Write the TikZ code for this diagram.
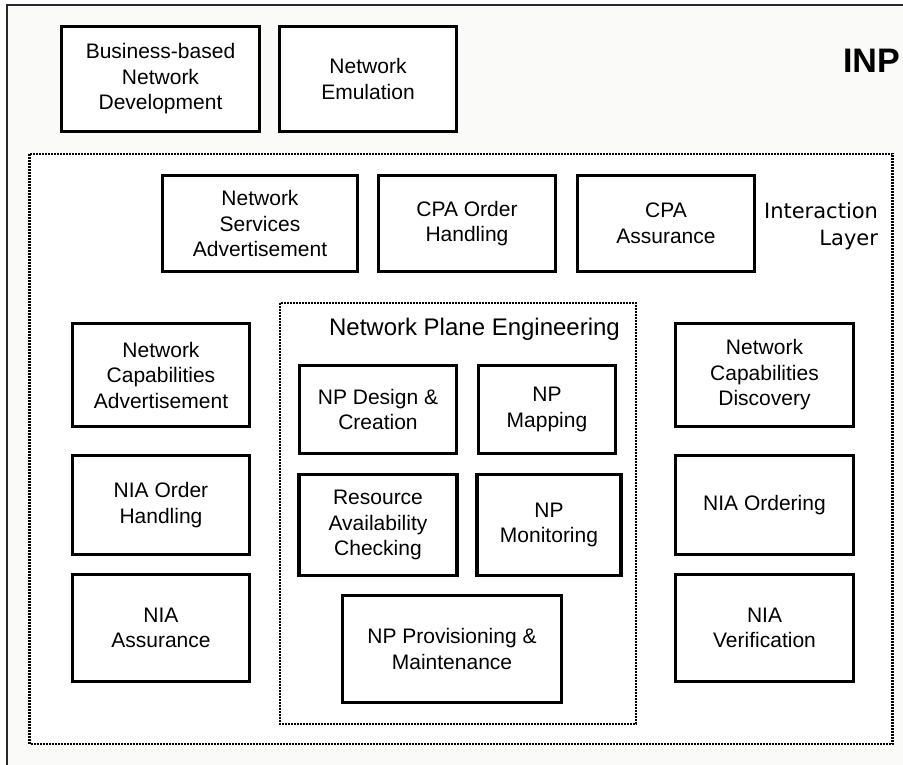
\documentclass[tikz,border=0pt]{standalone}
\usepackage{fontspec}
\setmainfont{Liberation Sans}
\newfontfamily\layerfont{DejaVu Sans}
\usepackage{tikz}
\usetikzlibrary{positioning}
\definecolor{bgcol}{RGB}{250,250,248}
\definecolor{framecol}{RGB}{40,40,40}
\tikzset{
	block/.style={draw, rectangle, line width=3.2pt, fill=white, align=center, inner sep=2pt, outer sep=0pt, font=\fontsize{21}{25.5}\selectfont},
	% dotted frames for layer and plane
	dotbox/.style={draw, line width=2.8pt, dash pattern=on 2pt off 1pt, fill=white},
	frame/.style={draw=framecol, line width=2pt},
	caption/.style={inner sep=0pt, outer sep=0pt},
}

\begin{document}
\begin{tikzpicture}[x=1pt, y=1pt]
	\useasboundingbox (0,0) rectangle (903,-765);
	\fill[white] (0,0) rectangle (903,-765);
	\fill[bgcol] (7,-5) rectangle (903,-765);
	\draw[frame] (7,-765) -- (7,-5) -- (903,-5);
	
	\draw[dotbox] (29.5,-154) rectangle (892.5,-744);
	\draw[dotbox] (280,-303) rectangle (636,-724);
	
	\node (inp) [caption, anchor=base west, font=\fontsize{34}{40}\selectfont\bfseries] at (843,-73) {INP};
	\node (layer) [caption, anchor=base east, align=right, font=\layerfont\fontsize{21}{27}\selectfont] at (878,-245) {Interaction\\Layer};
	\node (nptitle) [caption, anchor=base, font=\fontsize{24}{28}\selectfont] at (474.5,-335) {Network Plane Engineering};
	
	\node (biz) [block, minimum width=198pt, minimum height=105pt] at (160.5,-79) {Business-based\\Network\\Development};
	\node (emu) [block, minimum width=177pt, minimum height=105pt, right=20pt of biz] {Network\\Emulation};
	
	\node (nsa) [block, minimum width=195pt, minimum height=96pt] at (260,-223.5) {Network\\Services\\Advertisement};
	\node (cpaoh) [block, minimum width=177pt, minimum height=96pt, right=21pt of nsa] {CPA Order\\Handling};
	\node (cpaas) [block, minimum width=177pt, minimum height=96pt, right=22pt of cpaoh] {CPA\\Assurance};
	
	\node (nca) [block, minimum width=177pt, minimum height=103pt] at (161,-375) {Network\\Capabilities\\Advertisement};
	\node (niaoh) [block, minimum width=177pt, minimum height=99pt, below=29pt of nca] {NIA Order\\Handling};
	\node (niaas) [block, minimum width=177pt, minimum height=107pt, below=20pt of niaoh] {NIA\\Assurance};
	
	\node (ncd) [block, minimum width=178pt, minimum height=103pt] at (764.5,-375) {Network\\Capabilities\\Discovery};
	\node (niaord) [block, minimum width=178pt, minimum height=99pt, below=29pt of ncd] {NIA Ordering};
	\node (niaver) [block, minimum width=178pt, minimum height=107pt, below=20pt of niaord] {NIA\\Verification};
	
	\node (npdes) [block, minimum width=157pt, minimum height=88pt] at (378,-409.5) {NP Design \&\\Creation};
	\node (npmap) [block, minimum width=137pt, minimum height=88pt, right=22pt of npdes] {NP\\Mapping};
	\node (resav) [block, minimum width=158pt, minimum height=101pt, below=21pt of npdes] {Resource\\Availability\\Checking};
	\node (npmon) [block, minimum width=144pt, minimum height=101pt, right=20pt of resav] {NP\\Monitoring};
	\node (npprov) [block, minimum width=219pt, minimum height=107pt] at (452,-649) {NP Provisioning \&\\Maintenance};
	
\end{tikzpicture}
\end{document}
